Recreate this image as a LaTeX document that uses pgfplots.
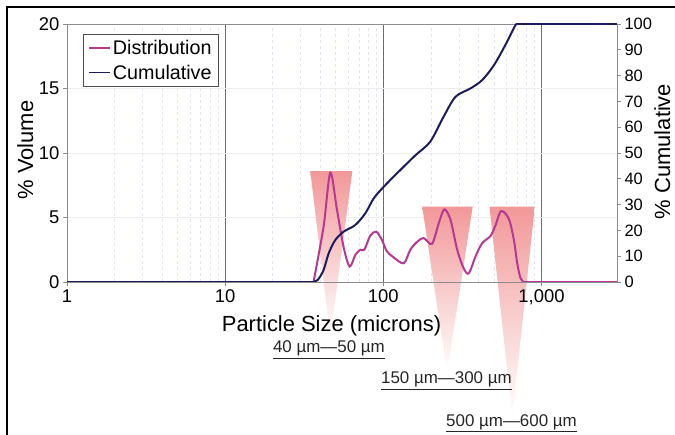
\documentclass[border=0pt]{standalone}
\usepackage{pgfplots}
\pgfplotsset{compat=1.18}
\usepackage{fontspec}
\setmainfont{Liberation Sans}

\definecolor{distcol}{RGB}{182,56,148}
\definecolor{cumcol}{RGB}{28,28,92}
\definecolor{tri}{RGB}{242,152,152}
\definecolor{trimid}{RGB}{246,182,182}
\definecolor{framegray}{RGB}{140,140,140}
\definecolor{minorgrid}{RGB}{224,229,239}

\begin{document}
\begin{tikzpicture}
\useasboundingbox (-67bp,-153bp) rectangle (608bp,282bp);
\draw[line width=1.2bp] (-60bp,-153bp) -- (-60bp,275bp) -- (608bp,275bp);

\begin{axis}[
  at={(0,0)}, anchor=south west,
  scale only axis, width=550bp, height=258bp,
  xmode=log, xmin=1, xmax=3000,
  ymin=0, ymax=20,
  clip=false,
  axis line style={framegray, line width=0.8bp},
  tick align=outside, major tick length=4bp,
  tick style={framegray, line width=0.8bp},
  xtick={1,10,100,1000}, xticklabels={},
  ytick={0,5,10,15,20}, yticklabels={0,5,10,15,20},
  ytick pos=left, xtick pos=bottom,
  minor tick length=0pt,
  ticklabel style={font=\fontsize{18.5}{20}\selectfont},
  xmajorgrids, ymajorgrids, xminorgrids,
  x grid style={gray!85!black, line width=0.8bp},
  y grid style={gray!15, line width=0.7bp},
  minor x grid style={minorgrid, dashed, line width=0.6bp},
  ylabel={\% Volume},
  ylabel style={at={(axis description cs:-0.0618,0.512)}, anchor=base, font=\fontsize{22}{24}\selectfont},
  legend style={at={(axis description cs:0.029,0.961)}, anchor=north west,
    draw=gray!60!black, line width=0.9bp, fill=white,
    font=\fontsize{19.8}{22}\selectfont, inner xsep=5bp, inner ysep=3.5bp,
    row sep=5bp},
  legend cell align=left,
  legend image code/.code={\draw[#1, line width=1.5bp] (0bp,0bp) -- (21bp,0bp);},
]
% highlighted size bands
\shade[top color=tri, middle color=trimid, bottom color=white] (axis cs:34.5,8.6) -- (axis cs:63.7,8.6) -- (axis cs:46.2,-4.3) -- cycle;
\shade[top color=tri, middle color=trimid, bottom color=white] (axis cs:176,5.84) -- (axis cs:367,5.84) -- (axis cs:253,-7.0) -- cycle;
\shade[top color=tri, middle color=trimid, bottom color=white] (axis cs:469,5.84) -- (axis cs:907,5.84) -- (axis cs:653,-10.5) -- cycle;

\addlegendimage{distcol}
\addlegendentry{Distribution}
\addlegendimage{cumcol}
\addlegendentry{Cumulative}

% distribution (% volume) against size in microns
\addplot[distcol, line width=2bp, smooth, tension=0.5, forget plot] coordinates {
  (36.2,0) (41.9,4.3) (46.2,8.47) (50.9,5.6) (56.1,2.7) (61.2,1.2)
  (66.5,2.1) (71.5,2.5) (75.8,2.5) (82.7,3.6) (90.3,3.9) (98,3.25)
  (105,2.4) (115,1.95) (134.5,1.45) (148,2.5) (163,3.1) (180,3.4)
  (203,2.95) (224,4.55) (243,5.63) (266,4.8) (293,2.5) (322,1.06)
  (347,0.67) (382,1.96) (421,3.0) (476,3.57) (512,4.4) (555,5.5)
  (621,4.9) (669,3.25) (702,1.45) (736,0.3) (773,0)
};
\addplot[distcol, line width=2bp, forget plot] coordinates {(1,0) (36.2,0)};
\addplot[distcol, line width=2bp, forget plot] coordinates {(773,0) (3000,0)};

\node[anchor=base, font=\fontsize{17}{19}\selectfont, text=black!85] at (axis cs:45.3,-5.5) {\underline{40 µm—50 µm}};
\node[anchor=base, font=\fontsize{17}{19}\selectfont, text=black!85] at (axis cs:250.6,-7.9) {\underline{150 µm—300 µm}};
\node[anchor=base, font=\fontsize{17}{19}\selectfont, text=black!85] at (axis cs:646,-11.2) {\underline{500 µm—600 µm}};
\end{axis}

\begin{axis}[
  at={(0,0)}, anchor=south west,
  scale only axis, width=550bp, height=258bp,
  xmode=log, xmin=1, xmax=3000,
  ymin=0, ymax=100,
  axis line style={framegray, line width=0.8bp},
  xtick={1,10,100,1000}, xticklabels={1,10,100,{1,000}},
  xtick pos=bottom,
  xticklabel style={font=\fontsize{18.5}{20}\selectfont},
  minor tick length=0pt,
  ytick={0,10,20,30,40,50,60,70,80,90,100},
  yticklabels={0,10,20,30,40,50,60,70,80,90,100},
  ytick pos=right, yticklabel pos=right,
  tick align=outside, major tick length=4bp,
  tick style={framegray, line width=0.8bp},
  yticklabel style={font=\fontsize{16.5}{18}\selectfont},
  xlabel={Particle Size (microns)},
  xlabel style={at={(axis description cs:0.481,-0.19)}, anchor=base, font=\fontsize{22}{24}\selectfont},
  ylabel={\% Cumulative},
  ylabel style={at={(axis description cs:1.0964,0.506)}, anchor=base, font=\fontsize{22}{24}\selectfont},
]
\addplot[cumcol, line width=2bp] coordinates {(1,0) (36,0)};
\addplot[cumcol, line width=2bp, smooth, tension=0.5] coordinates {
  (36,0) (38.5,0.8) (41.9,4.65) (45.1,11.1) (49.7,16.3) (56.1,19.5)
  (66.5,22.1) (76.9,26.6) (86.9,32.4) (100.5,36.9) (128,43.4) (160,49.2)
  (198,54.4) (240,64) (286,71.8) (355,75) (422,78.3) (501,84.1)
  (591,91.9) (685,99.6) (715,100)
};
\addplot[cumcol, line width=2bp] coordinates {(715,100) (3000,100)};
\end{axis}
\end{tikzpicture}
\end{document}
